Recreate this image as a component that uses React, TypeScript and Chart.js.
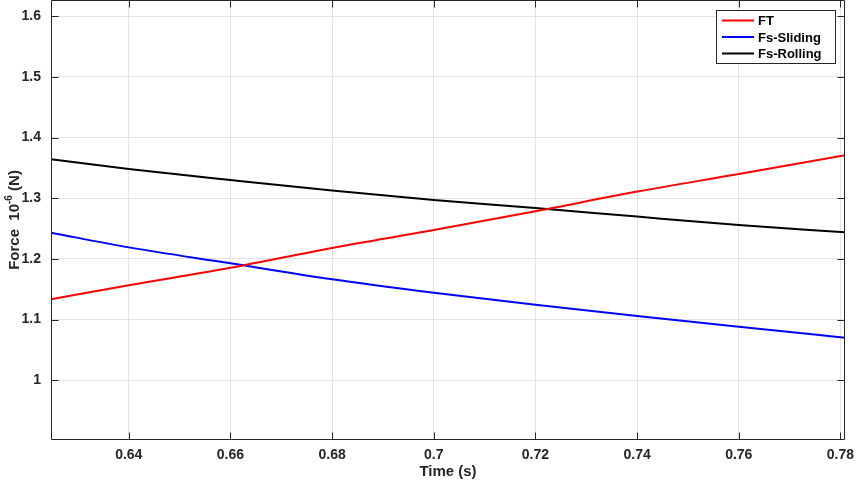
import React, { useEffect, useRef } from "react";
import { Chart, registerables } from "chart.js";

Chart.register(...registerables);

// ---- data ----
const timeValues = [0.6247, 0.64, 0.66, 0.68, 0.7, 0.72, 0.74, 0.76, 0.7809];
const ftValues = [1.1336, 1.1565, 1.1853, 1.2181, 1.2476, 1.2785, 1.3109, 1.3398, 1.3708];
const slidingValues = [1.2433, 1.219, 1.1928, 1.1664, 1.1443, 1.1245, 1.106, 1.0883, 1.0703];
const rollingValues = [1.364, 1.3483, 1.33, 1.3125, 1.297, 1.284, 1.2697, 1.2559, 1.2438];
const seriesLabels = ["FT", "Fs-Sliding", "Fs-Rolling"];
const seriesColors = ["#ff0000", "#0000ff", "#000000"];
const xTickValues = [0.64, 0.66, 0.68, 0.7, 0.72, 0.74, 0.76, 0.78];
const yTickValues = [1.0, 1.1, 1.2, 1.3, 1.4, 1.5, 1.6];
const xRange = [0.6247, 0.7809];
const yRange = [0.9017, 1.6265];
const xTitle = "Time (s)";
const yTitleMain = "Force  10";
const yTitleSup = "-6";
const yTitleTail = " (N)";

const FONT = "'Liberation Sans', Arial, Helvetica, sans-serif";
const AXIS_COLOR = "#262626";

const fmt = (v: number) => String(Number(v.toFixed(2)));

const framePlugin = {
  id: "matlabFrame",
  afterDraw(chart: any) {
    const { ctx, chartArea: a, scales } = chart;
    const xs = scales.x;
    const ys = scales.y;
    ctx.save();
    // box
    ctx.strokeStyle = AXIS_COLOR;
    ctx.lineWidth = 1;
    const L = Math.round(a.left) + 0.5;
    const R = Math.round(a.right) - 0.5;
    const T = Math.round(a.top) + 0.5;
    const B = Math.round(a.bottom) - 0.5;
    ctx.beginPath();
    ctx.moveTo(L, T);
    ctx.lineTo(R, T);
    ctx.lineTo(R, B);
    ctx.lineTo(L, B);
    ctx.closePath();
    ctx.stroke();
    // inward ticks
    const tl = 7;
    ctx.beginPath();
    xTickValues.forEach((v) => {
      const px = Math.round(xs.getPixelForValue(v)) + 0.5;
      ctx.moveTo(px, B);
      ctx.lineTo(px, B - tl);
      ctx.moveTo(px, T);
      ctx.lineTo(px, T + tl);
    });
    yTickValues.forEach((v) => {
      const py = Math.round(ys.getPixelForValue(v)) + 0.5;
      ctx.moveTo(L, py);
      ctx.lineTo(L + tl, py);
      ctx.moveTo(R, py);
      ctx.lineTo(R - tl, py);
    });
    ctx.stroke();

    // axis titles
    ctx.fillStyle = AXIS_COLOR;
    ctx.font = `bold 15px ${FONT}`;
    ctx.textAlign = "center";
    ctx.textBaseline = "middle";
    ctx.fillText(xTitle, (a.left + a.right) / 2, 472);

    // y title with superscript
    const mainFont = `bold 15px ${FONT}`;
    const supFont = `bold 10px ${FONT}`;
    ctx.font = mainFont;
    const w1 = ctx.measureText(yTitleMain).width;
    const w3 = ctx.measureText(yTitleTail).width;
    ctx.font = supFont;
    const w2 = ctx.measureText(yTitleSup).width;
    const total = w1 + w2 + w3;
    ctx.translate(19, (a.top + a.bottom) / 2);
    ctx.rotate(-Math.PI / 2);
    ctx.textAlign = "left";
    ctx.textBaseline = "alphabetic";
    let cx = -total / 2;
    ctx.font = mainFont;
    ctx.fillText(yTitleMain, cx, 0);
    cx += w1;
    ctx.font = supFont;
    ctx.fillText(yTitleSup, cx, -7);
    cx += w2;
    ctx.font = mainFont;
    ctx.fillText(yTitleTail, cx, 0);
    ctx.restore();

    // legend
    ctx.save();
    const bw = 119;
    const bh = 53;
    const bx = Math.round(a.right) - 10 - bw;
    const by = Math.round(a.top) + 10;
    ctx.fillStyle = "#ffffff";
    ctx.fillRect(bx, by, bw, bh);
    ctx.strokeStyle = AXIS_COLOR;
    ctx.lineWidth = 1;
    ctx.strokeRect(bx + 0.5, by + 0.5, bw, bh);
    ctx.font = `bold 13px ${FONT}`;
    ctx.textAlign = "left";
    ctx.textBaseline = "middle";
    chart.data.datasets.forEach((ds: any, i: number) => {
      const ry = by + 10.5 + i * 16.5;
      ctx.strokeStyle = ds.borderColor;
      ctx.lineWidth = 2;
      ctx.beginPath();
      ctx.moveTo(bx + 6, ry);
      ctx.lineTo(bx + 38, ry);
      ctx.stroke();
      ctx.fillStyle = "#000000";
      ctx.fillText(ds.label, bx + 42, ry + 1);
    });
    ctx.restore();
  },
};

const noPad = (s: any) => {
  s.paddingTop = 0;
  s.paddingBottom = 0;
  s.paddingLeft = 0;
  s.paddingRight = 0;
};

export default function App() {
  const ref = useRef<HTMLCanvasElement | null>(null);

  useEffect(() => {
    if (!ref.current) return;
    const mk = (vals: number[]) => timeValues.map((t, i) => ({ x: t, y: vals[i] }));
    const seriesData = [ftValues, slidingValues, rollingValues];
    const chart = new Chart(ref.current, {
      type: "line",
      data: {
        datasets: seriesData.map((vals, i) => ({
          label: seriesLabels[i],
          data: mk(vals),
          borderColor: seriesColors[i],
          backgroundColor: seriesColors[i],
          borderWidth: 2,
          pointRadius: 0,
          cubicInterpolationMode: "monotone" as const,
          fill: false,
        })),
      },
      options: {
        animation: false,
        responsive: false,
        maintainAspectRatio: false,
        layout: { padding: { top: 0, right: 11, left: 0, bottom: 0 } },
        plugins: {
          legend: { display: false },
          tooltip: { enabled: false },
        },
        scales: {
          x: {
            type: "linear",
            min: xRange[0],
            max: xRange[1],
            afterBuildTicks: (s: any) => {
              s.ticks = xTickValues.map((value) => ({ value }));
            },
            afterFit: (s: any) => {
              s.height = 43;
              noPad(s);
            },
            grid: { color: "#e3e3e3", lineWidth: 1, drawTicks: false },
            border: { display: false },
            ticks: {
              padding: 7,
              color: AXIS_COLOR,
              font: { family: FONT, size: 14, weight: "bold" },
              maxRotation: 0,
              autoSkip: false,
              callback: (v: any) => fmt(Number(v)),
            },
          },
          y: {
            type: "linear",
            min: yRange[0],
            max: yRange[1],
            afterBuildTicks: (s: any) => {
              s.ticks = yTickValues.map((value) => ({ value }));
            },
            afterFit: (s: any) => {
              s.width = 51;
              noPad(s);
            },
            grid: { color: "#e3e3e3", lineWidth: 1, drawTicks: false },
            border: { display: false },
            ticks: {
              padding: 10,
              color: AXIS_COLOR,
              font: { family: FONT, size: 14, weight: "bold" },
              autoSkip: false,
              callback: (v: any) => fmt(Number(v)),
            },
          },
        },
      },
      plugins: [framePlugin],
    });
    return () => chart.destroy();
  }, []);

  return (
    <div style={{ position: "fixed", left: 0, top: 0, width: 856, height: 483, background: "#fff" }}>
      <canvas ref={ref} width={856} height={483} />
    </div>
  );
}
